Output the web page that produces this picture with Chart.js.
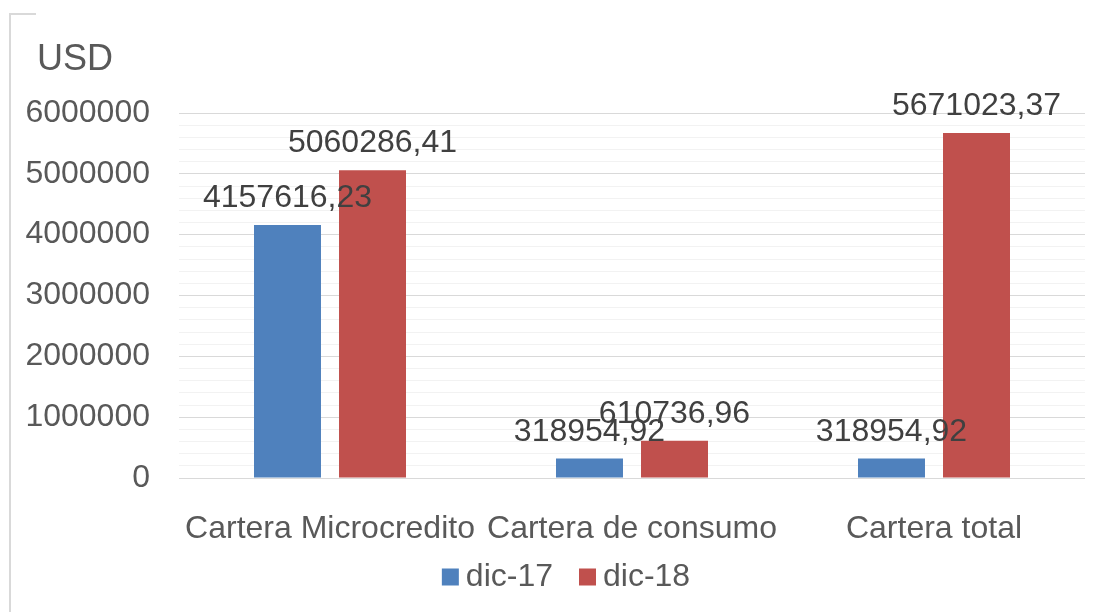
<!DOCTYPE html>
<html>
<head>
<meta charset="utf-8">
<script src="https://cdn.jsdelivr.net/npm/chart.js@4/dist/chart.umd.min.js"></script>
<style>
  html, body { margin: 0; padding: 0; background: #fff; }
  #wrap { width: 1100px; height: 612px; }
</style>
</head>
<body>
<div id="wrap"><canvas id="myChart" width="1100" height="612"></canvas></div>
<script>
// chart data
var categories = ['Cartera Microcredito', 'Cartera de consumo', 'Cartera total'];
var seriesNames = ['dic-17', 'dic-18'];
var dic17 = [4157616.23, 318954.92, 318954.92];
var dic18 = [5060286.41, 610736.96, 5671023.37];
var yTicks = [0, 1000000, 2000000, 3000000, 4000000, 5000000, 6000000];
var axisTitle = 'USD';

var FONT = '"Liberation Sans", Arial, sans-serif';

function fmt(v) {
  return v.toFixed(2).replace('.', ',');
}

// frame, title, legend and value labels
var extras = {
  id: 'extras',
  beforeDraw: function (chart) {
    var c = chart.ctx;
    c.save();
    c.strokeStyle = '#D9D9D9';
    c.lineWidth = 2;
    c.beginPath();
    c.moveTo(10, 612);
    c.lineTo(10, 14);
    c.lineTo(36, 14);
    c.stroke();
    c.fillStyle = '#595959';
    c.font = '36px ' + FONT;
    c.textBaseline = 'alphabetic';
    c.textAlign = 'left';
    c.fillText(axisTitle, 37, 70);
    c.restore();
  },
  afterDatasetsDraw: function (chart) {
    var c = chart.ctx;
    c.save();
    c.fillStyle = '#404040';
    c.font = '32px ' + FONT;
    c.textAlign = 'center';
    c.textBaseline = 'alphabetic';
    chart.data.datasets.forEach(function (ds, i) {
      var meta = chart.getDatasetMeta(i);
      meta.data.forEach(function (bar, j) {
        c.fillText(fmt(ds.data[j]), bar.x, bar.y - 18);
      });
    });
    c.restore();
  },
  afterDraw: function (chart) {
    // legend, like the office one: small square, short gap, text
    var c = chart.ctx;
    var dsets = chart.data.datasets;
    c.save();
    c.font = '32px ' + FONT;
    var box = 17, gap = 7, between = 26;
    var total = 0;
    dsets.forEach(function (ds, i) {
      total += box + gap + c.measureText(ds.label).width;
      if (i > 0) total += between;
    });
    var x = 566 - total / 2;
    var cy = 577;
    c.textBaseline = 'middle';
    c.textAlign = 'left';
    dsets.forEach(function (ds) {
      c.fillStyle = ds.backgroundColor;
      c.fillRect(x, cy - box / 2, box, box);
      x += box + gap;
      c.fillStyle = '#595959';
      c.fillText(ds.label, x, cy);
      x += c.measureText(ds.label).width + between;
    });
    c.restore();
  }
};

var ctx = document.getElementById('myChart').getContext('2d');
var myChart = new Chart(ctx, {
  type: 'bar',
  data: {
    labels: categories,
    datasets: [{
      label: seriesNames[0],
      data: dic17,
      backgroundColor: '#4F81BD',
      categoryPercentage: 0.563,
      barPercentage: 0.788
    }, {
      label: seriesNames[1],
      data: dic18,
      backgroundColor: '#C0504D',
      categoryPercentage: 0.563,
      barPercentage: 0.788
    }]
  },
  options: {
    responsive: false,
    animation: false,
    layout: { padding: { left: 0, right: 15, top: 113, bottom: 61 } },
    plugins: {
      title: { display: false },
      tooltip: { enabled: false },
      legend: { display: false }
    },
    scales: {
      x: {
        grid: { display: false },
        border: { display: false },
        ticks: {
          color: '#595959',
          padding: 24,
          maxRotation: 0,
          autoSkip: false,
          font: { size: 32, family: FONT }
        },
        afterFit: function (s) { s.height = 73; }
      },
      y: {
        min: 0,
        max: 6000000,
        border: { display: false },
        grid: {
          drawTicks: false,
          lineWidth: 1,
          color: function (c) {
            return yTicks.indexOf(c.tick.value) >= 0 ? '#D9D9D9' : '#F2F2F2';
          }
        },
        ticks: {
          stepSize: 200000,
          autoSkip: false,
          padding: 29,
          color: '#595959',
          font: { size: 32, family: FONT },
          callback: function (v) {
            return yTicks.indexOf(v) >= 0 ? String(v) : '';
          }
        },
        afterFit: function (s) { s.width = 179; }
      }
    }
  },
  plugins: [extras]
});
</script>
</body>
</html>
